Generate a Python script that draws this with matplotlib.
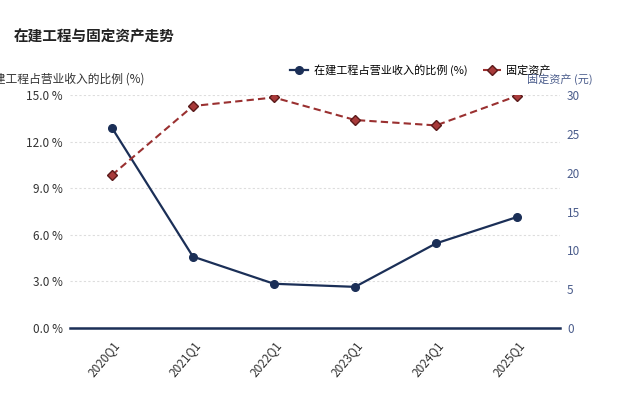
import matplotlib.pyplot as plt

plt.rcParams['font.family'] = ['Noto Sans CJK SC', 'DejaVu Sans']

quarters = ['2020Q1', '2021Q1', '2022Q1', '2023Q1', '2024Q1', '2025Q1']
cip_ratio = [12.9, 4.6, 2.85, 2.65, 5.45, 7.15]      # 在建工程占营业收入的比例 (%)
fixed_assets = [19.7, 28.6, 29.7, 26.8, 26.1, 29.9]  # 固定资产 (元)

navy = '#1b2f57'
red = '#9a3030'

fig = plt.figure(figsize=(6.4, 3.94), dpi=100)
ax = fig.add_axes([0.109, 0.1675, 0.766, 0.591])
ax2 = ax.twinx()

x = range(len(quarters))
ax.plot(x, cip_ratio, color=navy, marker='o', markersize=5.5, linewidth=1.6,
        label='在建工程占营业收入的比例 (%)', zorder=3)
ax2.plot(x, fixed_assets, color=red, linestyle='--', dashes=(3.5, 2), marker='D',
         markersize=5.5, markerfacecolor='#a83a3a', markeredgecolor='#5a1a1a',
         linewidth=1.5, label='固定资产')

ax.set_xlim(-0.52, 5.53)
ax.set_ylim(0, 15)
ax2.set_ylim(0, 30)
ax.set_yticks([0, 3, 6, 9, 12, 15])
ax.set_yticklabels([f'{v:.1f} %' for v in [0, 3, 6, 9, 12, 15]])
ax2.set_yticks([0, 5, 10, 15, 20, 25, 30])

ax.set_xticks(list(x))
ax.set_xticklabels(quarters, rotation=50, ha='right', rotation_mode='anchor', fontsize=8.5)

ax.grid(axis='y', linestyle=(0, (2, 2)), color='#dddddd', linewidth=0.8)
ax.set_axisbelow(True)

for a in (ax, ax2):
    for s in ('top', 'left', 'right'):
        a.spines[s].set_visible(False)
    a.tick_params(length=0)
ax.spines['bottom'].set_color(navy)
ax.spines['bottom'].set_linewidth(1.8)
ax2.spines['bottom'].set_visible(False)
ax.tick_params(axis='y', labelsize=8.5, colors='#333333', pad=5)
ax.tick_params(axis='x', colors='#333333', pad=8)
ax2.tick_params(axis='y', labelsize=8.5, colors='#4b5d8c', pad=5)

fig.text(0.022, 0.895, '在建工程与固定资产走势', fontsize=10.5, fontweight='bold', color='#222222')
fig.text(-0.028, 0.8, '在建工程占营业收入的比例 (%)', fontsize=8.5, color='#333333', va='center')
fig.text(0.824, 0.8, '固定资产 (元)', fontsize=8, color='#4b5d8c', ha='left', va='center')

h1, l1 = ax.get_legend_handles_labels()
h2, l2 = ax2.get_legend_handles_labels()
fig.legend(h1 + h2, l1 + l2, loc='center', bbox_to_anchor=(0.657, 0.822), ncol=2,
           frameon=False, fontsize=8, handlelength=1.6, columnspacing=1.4, handletextpad=0.5)

fig.savefig('out.png', dpi=100)
